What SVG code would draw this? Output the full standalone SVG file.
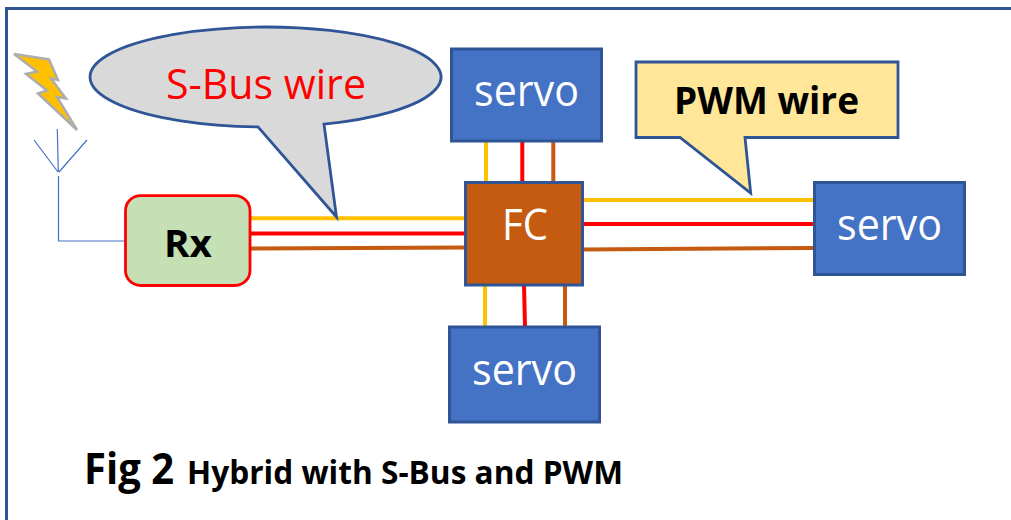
<svg xmlns="http://www.w3.org/2000/svg" width="1011" height="520" viewBox="0 0 1011 520">
<style>
text{font-family:"Open Sans","Noto Sans","Liberation Sans",sans-serif}
.b{font-weight:700}
.servo rect{fill:#4472c4;stroke:#2f5597;stroke-width:3}
.servo text,.fc text{fill:#fff;font-size:44px}
.w{fill:none;stroke-width:4}
.y{stroke:#ffc000}.r{stroke:#ff0000}.n{stroke:#c55a11}
.ant{fill:none;stroke:#4472c4;stroke-width:1.2}
.call{stroke:#2f5597;stroke-width:2.800;stroke-linejoin:miter}
</style>
<rect id="frame" x="6.500" y="8.500" width="1030" height="540" fill="#fff" stroke="#2f5597" stroke-width="3"/>
<g id="connectors">
<path class="w y" d="M250 218.300H465M486 141V182M583 200H814M485 285V327"/>
<path class="w r" d="M250 233.500H465M522.300 141V182M583 224H814M524 285L525 327"/>
<path class="w n" d="M250 248.600L465 247.600M553.300 141V182M583 249.400L814 248M565 285V327"/>
<path class="ant" d="M57.300 129L58.300 172M34 140L58 172M87 140L59 172M58.500 176V241H126"/>
</g>
<g id="lightning"><path d="M14 54L49 59.500L58 80L51 78.500L66 98.500L57 97L77 130L38 93.500L47 90.500L26 74L37 71.500Z" fill="#ffc000" stroke="#adadad" stroke-width="2.500"/></g>
<g id="sbus-callout">
<path class="call" fill="#d9d9d9" d="M258 126.950L336.500 217L324 124.140A175.500 50 0 1 0 258 126.950Z"/>
<text x="166" y="99" font-size="42" fill="#f00" textLength="200" lengthAdjust="spacingAndGlyphs">S-Bus wire</text>
</g>
<g id="pwm-callout">
<path class="call" fill="#ffe699" d="M636 62H898V137.500H745L750.700 193L680 137.500H636Z"/>
<text class="b" x="674" y="114" font-size="38" fill="#000" textLength="185" lengthAdjust="spacingAndGlyphs">PWM wire</text>
</g>
<g id="rx">
<rect x="125.500" y="195.700" width="124.500" height="89.800" rx="15" fill="#c5e0b4" stroke="#f00" stroke-width="2.800"/>
<text class="b" x="164" y="256.500" font-size="38" fill="#000" textLength="48" lengthAdjust="spacingAndGlyphs">Rx</text>
</g>
<g id="fc" class="fc">
<rect x="465.500" y="182.500" width="117" height="102.500" fill="#c55a11" stroke="#2f5597" stroke-width="3"/>
<text x="502" y="240" textLength="46" lengthAdjust="spacingAndGlyphs">FC</text>
</g>
<g id="servo-top" class="servo">
<rect x="451.500" y="49" width="150" height="92"/>
<text x="474" y="106" textLength="105" lengthAdjust="spacingAndGlyphs">servo</text>
</g>
<g id="servo-right" class="servo">
<rect x="814.500" y="182.500" width="150" height="92"/>
<text x="837" y="240" textLength="105" lengthAdjust="spacingAndGlyphs">servo</text>
</g>
<g id="servo-bottom" class="servo">
<rect x="449.500" y="327" width="150" height="95"/>
<text x="472" y="385" textLength="105" lengthAdjust="spacingAndGlyphs">servo</text>
</g>
<g id="caption">
<text class="b" x="84" y="484" font-size="43" fill="#000" textLength="90" lengthAdjust="spacingAndGlyphs">Fig 2</text>
<text class="b" x="187" y="484" font-size="32" fill="#000" textLength="436" lengthAdjust="spacingAndGlyphs">Hybrid with S-Bus and PWM</text>
</g>
</svg>
